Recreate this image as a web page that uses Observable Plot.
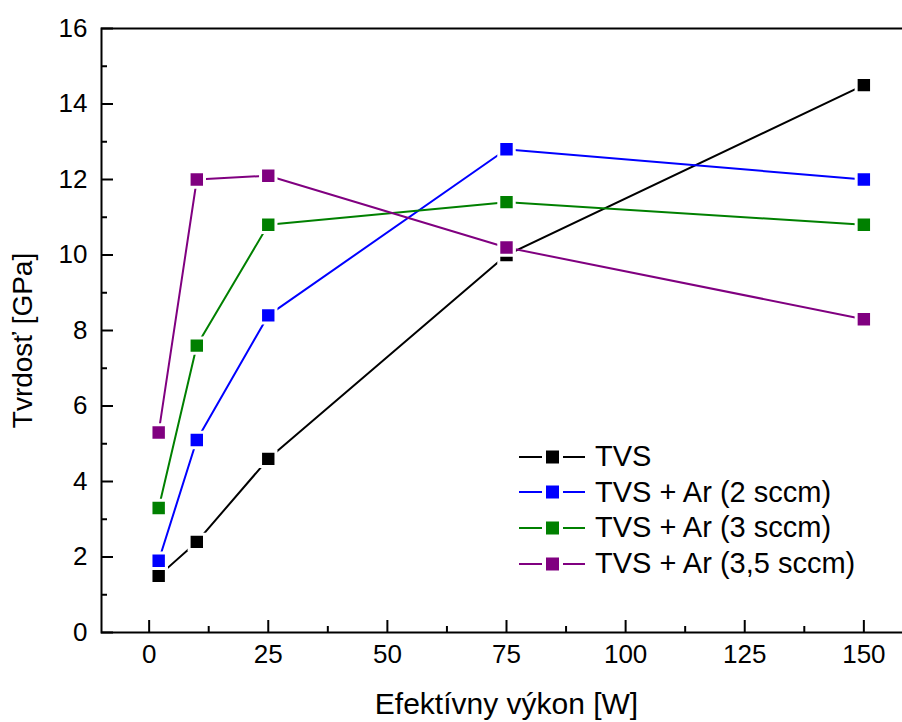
<!DOCTYPE html>
<html>
<head>
<meta charset="utf-8">
<script src="https://cdn.jsdelivr.net/npm/d3@7"></script>
<script src="https://cdn.jsdelivr.net/npm/@observablehq/plot@0.6"></script>
<style>
  html, body { margin: 0; padding: 0; background: #fff; overflow: hidden; }
  #wrap { position: relative; width: 902px; height: 722px; font-family: "Liberation Sans", Arial, sans-serif; }
  #legend { position: absolute; left: 519px; top: 439px; font-size: 29px; color: #000; }
  .row { display: flex; align-items: center; height: 35.6px; line-height: 35.6px; white-space: nowrap; }
  .row svg { margin-right: 10px; flex: none; }
</style>
</head>
<body>
<div id="wrap"></div>
<script>
const power = [2, 10, 25, 75, 150];
const seriesNames = ["TVS", "TVS + Ar (2 sccm)", "TVS + Ar (3 sccm)", "TVS + Ar (3,5 sccm)"];
const seriesColors = ["#000000", "#0000ff", "#008000", "#800080"];
const hardnessTVS = [1.5, 2.4, 4.6, 10.0, 14.5];
const hardnessAr2 = [1.9, 5.1, 8.4, 12.8, 12.0];
const hardnessAr3 = [3.3, 7.6, 10.8, 11.4, 10.8];
const hardnessAr35 = [5.3, 12.0, 12.1, 10.2, 8.3];
const yMajorTicks = [0, 2, 4, 6, 8, 10, 12, 14, 16];
const yMinorTicks = [1, 3, 5, 7, 9, 11, 13, 15];
const xMajorTicks = [0, 25, 50, 75, 100, 125, 150];
const xMinorTicks = [12.5, 37.5, 62.5, 87.5, 112.5, 137.5];
const xTitle = "Efektívny výkon [W]";
const yTitle = "Tvrdosť [GPa]";

const allSeries = [hardnessTVS, hardnessAr2, hardnessAr3, hardnessAr35];
const data = [];
allSeries.forEach((vals, i) => vals.forEach((v, j) => data.push({series: seriesNames[i], x: power[j], y: v})));

const color = {domain: seriesNames, range: seriesColors};

const chart = Plot.plot({
  width: 902,
  height: 722,
  marginLeft: 101,
  marginTop: 28,
  marginBottom: 90,
  marginRight: -9,
  style: {fontFamily: "'Liberation Sans', Arial, sans-serif", fontSize: "26px", color: "#000", background: "#fff", overflow: "visible"},
  x: {domain: [-10, 160]},
  y: {domain: [0, 16]},
  color,
  marks: [
    Plot.line(data, {x: "x", y: "y", z: "series", stroke: "series", strokeWidth: 2}),
    Plot.dot(data, {x: "x", y: "y", fill: "series", symbol: "square", r: 8.7, stroke: "white", strokeWidth: 3}),
    Plot.axisY(yMajorTicks, {tickSize: -12, text: null, label: null, strokeWidth: 2}),
    Plot.axisY(yMinorTicks, {tickSize: -6, text: null, label: null, strokeWidth: 2}),
    Plot.axisY(yMajorTicks, {tickSize: 0, tickPadding: 14, label: null, fontSize: 26}),
    Plot.axisX(xMajorTicks, {tickSize: -12, text: null, label: null, strokeWidth: 2}),
    Plot.axisX(xMinorTicks, {tickSize: -6, text: null, label: null, strokeWidth: 2}),
    Plot.axisX(xMajorTicks, {tickSize: 0, tickPadding: 12, label: null, fontSize: 26}),
    Plot.frame({stroke: "#000", strokeWidth: 2}),
    Plot.text([yTitle], {frameAnchor: "left", dx: -78, dy: 10, rotate: -90, textAnchor: "middle", lineAnchor: "middle", fontSize: 28}),
    Plot.text([xTitle], {frameAnchor: "bottom", dy: 72, textAnchor: "middle", lineAnchor: "middle", fontSize: 30})
  ]
});

const wrap = document.getElementById("wrap");
wrap.appendChild(chart);

const legend = document.createElement("div");
legend.id = "legend";
seriesNames.forEach((name, i) => {
  const row = document.createElement("div");
  row.className = "row";
  const c = seriesColors[i];
  row.innerHTML = `<svg width="66" height="16"><line x1="0" x2="23" y1="8" y2="8" stroke="${c}" stroke-width="2"/><line x1="44" x2="66" y1="8" y2="8" stroke="${c}" stroke-width="2"/><rect x="27" y="1.5" width="13" height="13" fill="${c}"/></svg><span>${name}</span>`;
  legend.appendChild(row);
});
wrap.appendChild(legend);
</script>
</body>
</html>
